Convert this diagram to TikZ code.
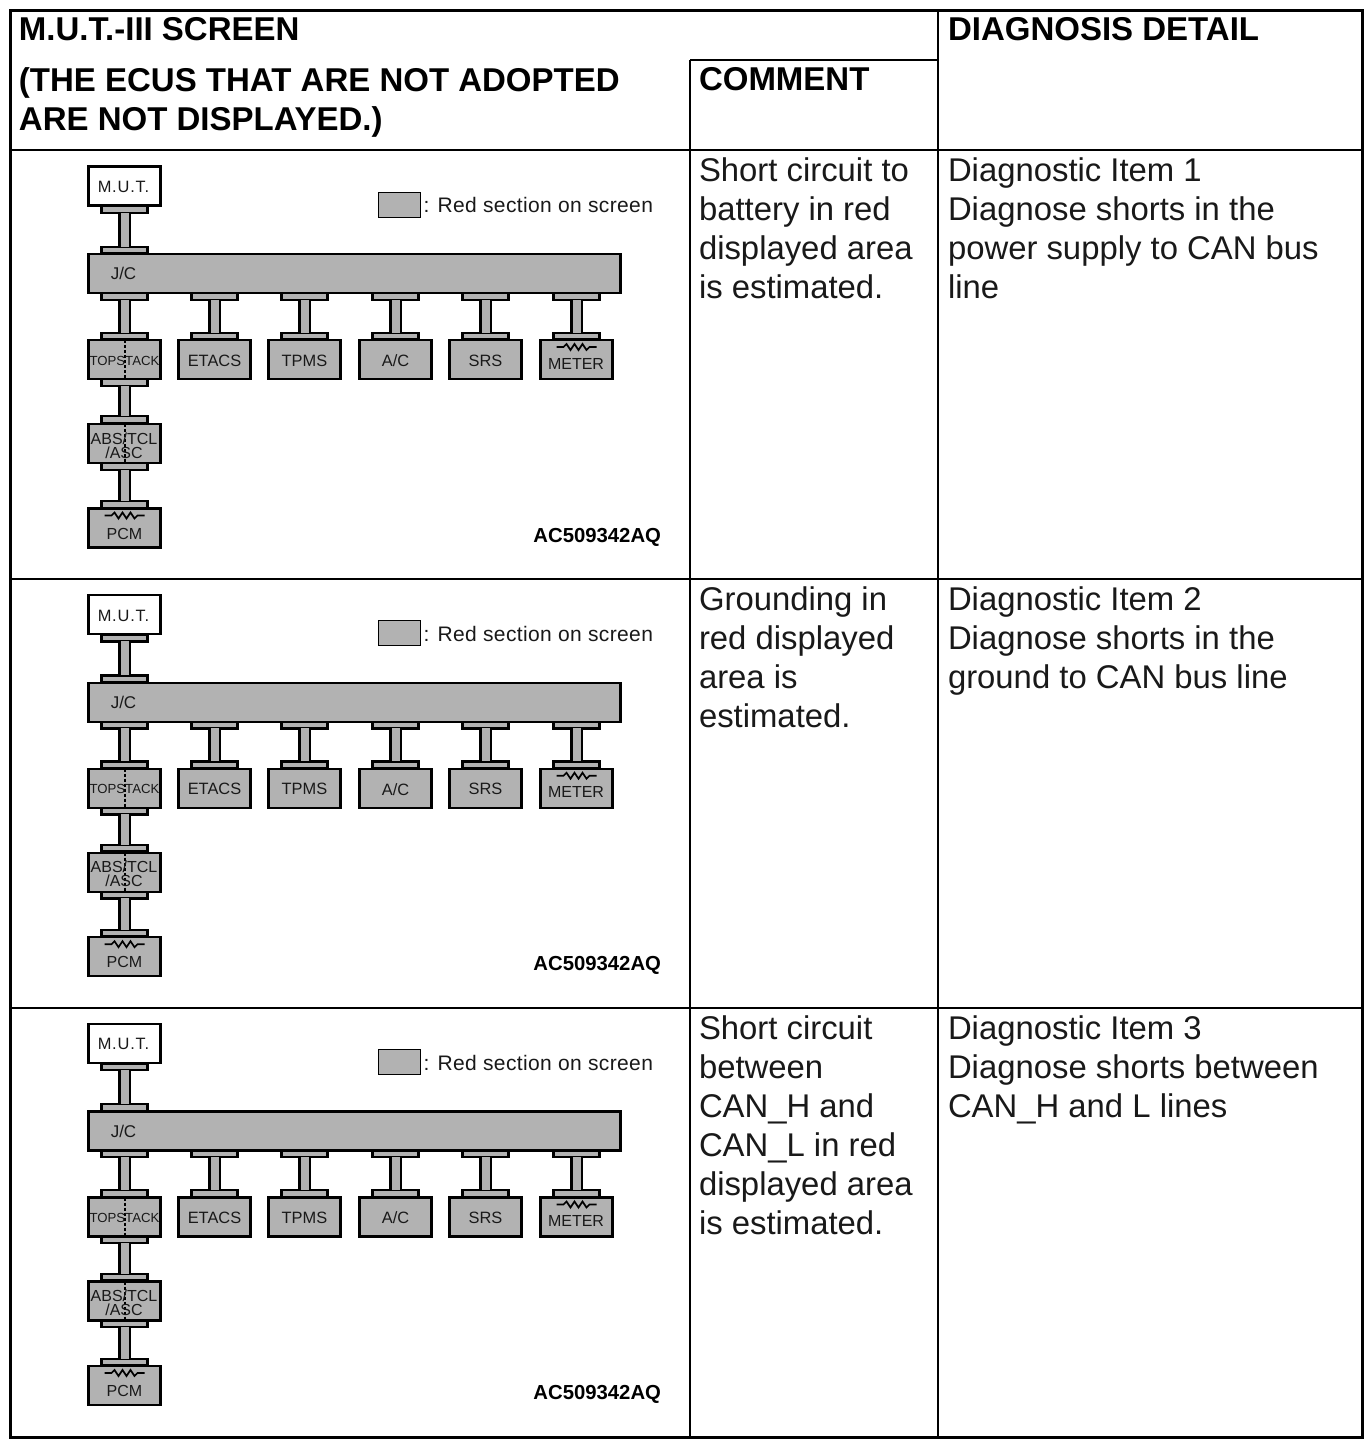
\documentclass[tikz,border=0pt]{standalone}
\usepackage{fontspec}
\setmainfont{Liberation Sans}
\newcommand{\fs}[2]{\fontsize{#1}{#2}\selectfont}
\tikzset{x=1pt,y=-1pt,
  ecubox/.style={draw=black,fill=boxgray,line width=2.1pt,minimum width=72pt,minimum height=39pt,inner sep=0pt,outer sep=0pt},
  whitebox/.style={ecubox,fill=white},
  busbox/.style={ecubox,minimum width=532pt},
  padbox/.style={draw=black,fill=boxgray,line width=2.1pt,minimum width=46pt,minimum height=6.5pt,inner sep=0pt,outer sep=0pt},
  wire/.style={draw=black,line width=2.1pt,double=boxgray,double distance=8pt},
  gridline/.style={draw=black,line width=2pt},
  outerline/.style={draw=black,line width=3pt},
  celltext/.style={anchor=north west,inner sep=0pt,outer sep=0pt,align=left,font=\fs{32.85}{39},text=black!90},
  headtext/.style={anchor=north west,inner sep=0pt,outer sep=0pt,align=left,font=\bfseries\fs{33}{39}},
  smallnote/.style={anchor=west,inner sep=0pt,outer sep=0pt,text=black!90,font=\fs{21}{21}\addfontfeature{LetterSpace=1.8}},
  partno/.style={anchor=east,inner sep=0pt,outer sep=0pt,font=\bfseries\fs{20.3}{20}},
  ecutext/.style={inner sep=0pt,outer sep=0pt,text=black!90,align=center,font=\fs{#1}{14}},
  splitline/.style={draw=black,line width=2pt,dash pattern=on 3pt off 2pt},
  coil/.style={draw=black,line width=1.7pt},
}
\definecolor{boxgray}{HTML}{B2B2B2}
\newcommand{\coilmark}[1]{\draw[coil] ([shift={(-20,-12.5)}]#1.center) -- ++(7,0) -- ++(3,-3) -- ++(4,6) -- ++(4,-6) -- ++(4,6) -- ++(4,-6) -- ++(4,6) -- ++(3,-3) -- ++(7,0);}
\newcommand{\panel}[2]{%
\begin{scope}[yshift=#2,name prefix=p#1-]
  \node[whitebox] (mut) at (124.5,186) {};
  \node[ecutext=16.4] (mutlabel) at (123.5,186.8) {\addfontfeature{LetterSpace=5}M.U.T.};
  \node[padbox] (mutpad) at (124.5,209.5) {};
  \node[padbox] (jctop) at (124.5,250) {};
  \node[busbox] (jc) at (354.5,273.5) {};
  \node[ecutext=17] (jclabel) at (123.5,273.5) {J/C};
  \draw[wire] (mutpad.south) -- (jctop.north);
  \foreach \nm/\xc in {top/124.5,eta/214.5,tpm/304.5,ac/395.5,srs/485.5,met/576.5}{
    \node[ecubox] (\nm) at (\xc,359.5) {};
    \node[padbox] (\nm up) at (\xc,296.5) {};
    \node[padbox] (\nm dn) at (\xc,336) {};
    \draw[wire] (\nm up.south) -- (\nm dn.north);
  }
  \node[ecutext=16.4] (etalabel) at (214.5,360.5) {ETACS};
  \node[ecutext=16.4] (tpmlabel) at (304.5,360.5) {TPMS};
  \node[ecutext=16.4] (aclabel) at (395.5,360.5) {A/C};
  \node[ecutext=16.4] (srslabel) at (485.5,360.5) {SRS};
  \draw[splitline] (top.north) -- (top.south);
  \node[ecutext=13.2] (toplabel) at (124.5,360.5) {TOPSTACK};
  \node[ecutext=16] (metlabel) at (576,363.5) {METER};
  \coilmark{met}
  \node[padbox] (toppad) at (124.5,382.5) {};
  \node[padbox] (absup) at (124.5,419.5) {};
  \draw[wire] (toppad.south) -- (absup.north);
  \node[ecubox] (abs) at (124.5,443.5) {};
  \draw[splitline] (abs.north) -- (abs.south);
  \node[ecutext=16] (abslabel) at (124,445.5) {ABS/TCL\\/ASC};
  \node[padbox] (abspad) at (124.5,466.5) {};
  \node[padbox] (pcmup) at (124.5,504.5) {};
  \draw[wire] (abspad.south) -- (pcmup.north);
  \node[ecubox] (pcm) at (124.5,528) {};
  \node[ecutext=16] (pcmlabel) at (124.5,533.5) {PCM};
  \coilmark{pcm}
  \node[draw=black,fill=boxgray,line width=1pt,minimum width=42pt,minimum height=25pt,inner sep=0pt] (swatch) at (399,204.5) {};
  \node[smallnote] (legend) at (423.5,205) {: Red section on screen};
  \node[partno] (part) at (661,537) {AC509342AQ};
\end{scope}}
\begin{document}
\begin{tikzpicture}
\useasboundingbox (0,0) rectangle (1371,1443);
\fill[white] (0,0) rectangle (1371,1443);
\draw[gridline] (690,60) -- (690,1437);
\draw[gridline] (938,10) -- (938,1437);
\draw[gridline] (690,60) -- (938,60);
\draw[gridline] (10,150) -- (1362,150);
\draw[gridline] (10,579) -- (1364,579);
\draw[gridline] (10,1008) -- (1362,1008);
\draw[outerline] (10,10) rectangle (1362,1437);
\node[headtext] (h1) at (19,17) {M.U.T.-III SCREEN};
\node[headtext] (h2) at (19,67.5) {(THE ECUS THAT ARE NOT ADOPTED\\ARE NOT DISPLAYED.)};
\node[headtext] (h3) at (699,67.5) {COMMENT};
\node[headtext] (h4) at (948,17) {DIAGNOSIS DETAIL};
\panel{1}{0pt}
\panel{2}{-428.7pt}
\panel{3}{-857.5pt}
\node[celltext] (c1) at (699,158) {Short circuit to\\battery in red\\displayed area\\is estimated.};
\node[celltext] (c2) at (699,587) {Grounding in\\red displayed\\area is\\estimated.};
\node[celltext] (c3) at (699,1016) {Short circuit\\between\\CAN\_H and\\CAN\_L in red\\displayed area\\is estimated.};
\node[celltext] (d1) at (948,158) {Diagnostic Item 1\\Diagnose shorts in the\\power supply to CAN bus\\line};
\node[celltext] (d2) at (948,587) {Diagnostic Item 2\\Diagnose shorts in the\\ground to CAN bus line};
\node[celltext] (d3) at (948,1016) {Diagnostic Item 3\\Diagnose shorts between\\CAN\_H and L lines};
\end{tikzpicture}
\end{document}
